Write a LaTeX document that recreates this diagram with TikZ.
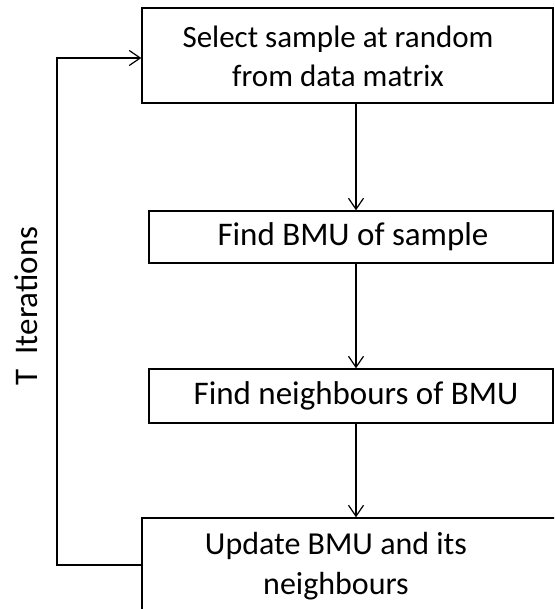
\documentclass[tikz,border=0pt]{standalone}
\usepackage{fontspec}
\setmainfont{Carlito}
\usetikzlibrary{arrows.meta}
\tikzset{
  stepbox/.style={draw, line width=1.4pt, inner sep=0pt, fill=white},
  steptext/.style={align=center, font=\fontsize{33}{40}\selectfont, inner sep=0pt},
  flow/.style={line width=1.4pt, -{Straight Barb[length=11pt,width=15pt,line width=1.2pt]}},
}
\begin{document}
\begin{tikzpicture}[x=1pt, y=-1pt]
\useasboundingbox (0,0) rectangle (554,609);
\clip (0,0) rectangle (554,609);
% process boxes
\node[stepbox, minimum width=411pt, minimum height=95pt] (b1) at (347.5,55.5) {};
\node[stepbox, minimum width=404pt, minimum height=52pt] (b2) at (351,237) {};
\node[stepbox, minimum width=404pt, minimum height=54pt] (b3) at (351,396) {};
\node[stepbox, minimum width=440pt, minimum height=130pt] (b4) at (362,583) {};
% box captions
\node[steptext, font=\fontsize{31}{39}\selectfont] (t1) at (338,56) {Select sample at random\\from data matrix};
\node[steptext] (t2) at (353,237) {Find BMU of sample};
\node[steptext] (t3) at (356,396) {Find neighbours of BMU};
\node[steptext, font=\fontsize{32}{40}\selectfont, anchor=north] (t4) at (336,532) {Update BMU and its\\neighbours};
% loop label
\node[steptext, rotate=90] (loop) at (26,306) {T~~Iterations};
% connectors
\draw[flow] (b1.south -| 356,0) -- (b2.north -| 356,0);
\draw[flow] (b2.south -| 356,0) -- (b3.north -| 356,0);
\draw[flow] (b3.south -| 356,0) -- (b4.north -| 356,0);
\coordinate (back) at (57,565);
\draw[flow] (b4.west |- back) -- (back) |- (b1.west |- 0,58);
\end{tikzpicture}
\end{document}
